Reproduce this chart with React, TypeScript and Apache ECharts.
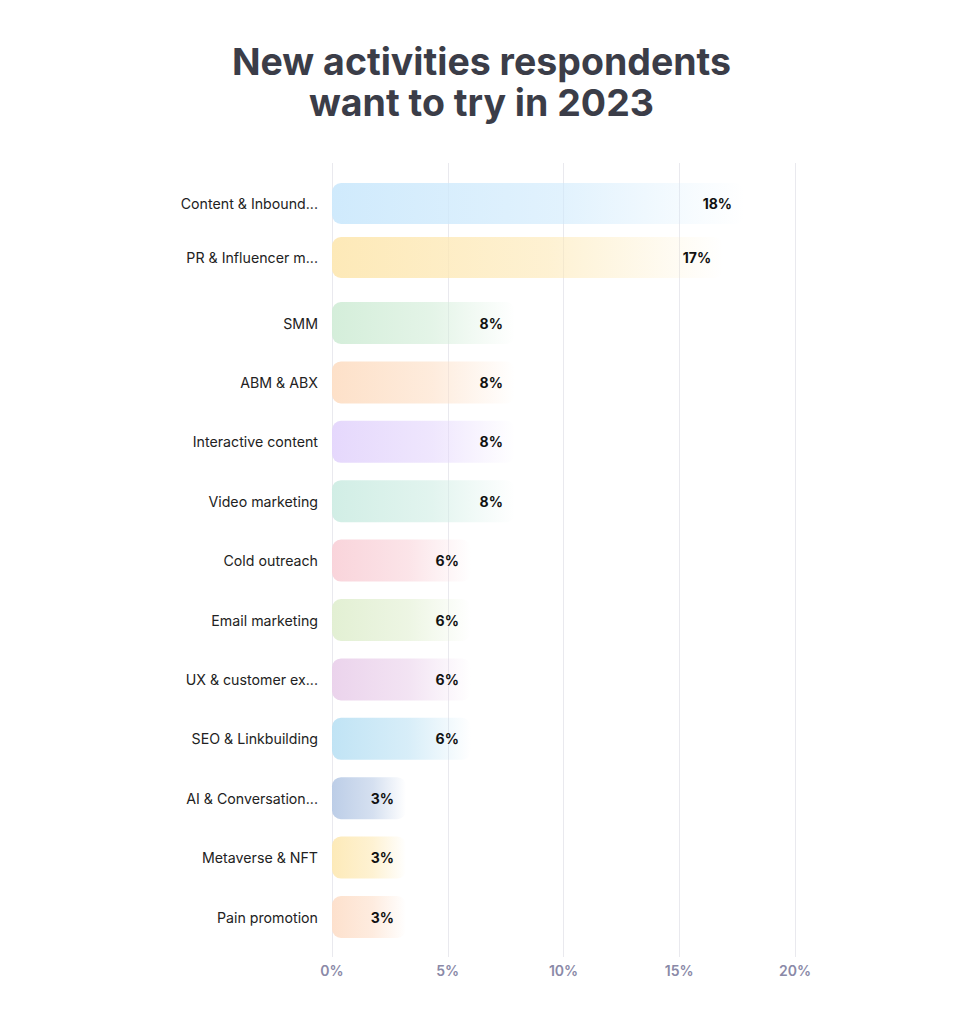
import React, { useEffect, useRef } from "react";
import * as echarts from "echarts";

const titleText = "New activities respondents\nwant to try in 2023";

const categories = [
  "Content & Inbound...",
  "PR & Influencer m...",
  "SMM",
  "ABM & ABX",
  "Interactive content",
  "Video marketing",
  "Cold outreach",
  "Email marketing",
  "UX & customer ex...",
  "SEO & Linkbuilding",
  "AI & Conversation...",
  "Metaverse & NFT",
  "Pain promotion",
];

const values = [17.8, 16.9, 7.9, 7.9, 7.9, 7.9, 6.0, 6.0, 6.0, 6.0, 3.2, 3.2, 3.2];

const barColors = [
  "#cde9fc",
  "#fde8b4",
  "#d2edd8",
  "#fddfc6",
  "#e4d6fc",
  "#cfede4",
  "#f9d2d9",
  "#e1efd1",
  "#ead1eb",
  "#bde2f4",
  "#b9cbe6",
  "#fde9b5",
  "#fddfca",
];

const xTicks = [0, 5, 10, 15, 20];

function hexToRgba(hex: string, a: number) {
  const n = parseInt(hex.slice(1), 16);
  return `rgba(${(n >> 16) & 255},${(n >> 8) & 255},${n & 255},${a})`;
}

const FONT = "Inter";

export default function App() {
  const ref = useRef<HTMLDivElement>(null);

  useEffect(() => {
    document.body.style.margin = "0";
    const chart = echarts.init(ref.current!, undefined, { renderer: "svg" });

    const makeData = (from: number, to: number) =>
      values.slice(from, to).map((v, i) => {
        const c = barColors[from + i];
        return {
          value: v,
          itemStyle: {
            color: new echarts.graphic.LinearGradient(0, 0, 1, 0, [
              { offset: 0, color: hexToRgba(c, 0.95) },
              { offset: 0.55, color: hexToRgba(c, 0.6) },
              { offset: 1, color: hexToRgba(c, 0) },
            ]),
          },
        };
      });

    const gridLeft = 332;
    const gridWidth = 463;

    const hiddenX = (gi: number) => ({
      type: "value",
      gridIndex: gi,
      min: xTicks[0],
      max: xTicks[xTicks.length - 1],
      interval: 5,
      show: false,
      splitLine: { show: false },
    });

    const catY = (gi: number, data: string[]) => ({
      type: "category",
      gridIndex: gi,
      data,
      inverse: true,
      axisLine: { show: false },
      axisTick: { show: false },
      axisLabel: {
        margin: 14,
        color: "#222222",
        fontSize: 14.2,
        fontFamily: FONT,
      },
    });

    const label = {
      show: true,
      position: "insideRight",
      distance: 12,
      formatter: (p: any) => Math.round(p.value) + "%",
      color: "#111111",
      fontWeight: 700,
      fontSize: 14,
      fontFamily: FONT,
    };

    chart.setOption({
      animation: false,
      backgroundColor: "#ffffff",
      title: {
        text: titleText,
        left: "center",
        top: 36,
        textStyle: {
          fontFamily: FONT,
          fontSize: 37.5,
          fontWeight: 700,
          lineHeight: 41,
          color: "#3b3d48",
        },
      },
      grid: [
        { left: gridLeft, width: gridWidth, top: 163, bottom: 67 },
        { left: gridLeft, width: gridWidth, top: 176.5, height: 108 },
        { left: gridLeft, width: gridWidth, top: 293.3, height: 653.4 },
      ],
      xAxis: [
        {
          type: "value",
          gridIndex: 0,
          min: xTicks[0],
          max: xTicks[xTicks.length - 1],
          interval: 5,
          axisLine: { show: false },
          axisTick: { show: false },
          splitLine: { show: true, lineStyle: { color: "#e9e9ee", width: 1 } },
          axisLabel: {
            formatter: "{value}%",
            color: "#8a89a7",
            fontSize: 14,
            fontWeight: 600,
            fontFamily: FONT,
            margin: 6,
          },
        },
        hiddenX(1),
        hiddenX(2),
      ],
      yAxis: [
        { type: "value", gridIndex: 0, show: false, splitLine: { show: false } },
        catY(1, categories.slice(0, 2)),
        catY(2, categories.slice(2)),
      ],
      series: [
        {
          type: "bar",
          xAxisIndex: 1,
          yAxisIndex: 1,
          barWidth: 41,
          data: makeData(0, 2),
          itemStyle: { borderRadius: 9 },
          label,
        },
        {
          type: "bar",
          xAxisIndex: 2,
          yAxisIndex: 2,
          barWidth: 42,
          data: makeData(2, values.length),
          itemStyle: { borderRadius: 9 },
          label,
        },
      ],
    });

    return () => chart.dispose();
  }, []);

  return <div ref={ref} style={{ width: 963, height: 1024 }} />;
}
